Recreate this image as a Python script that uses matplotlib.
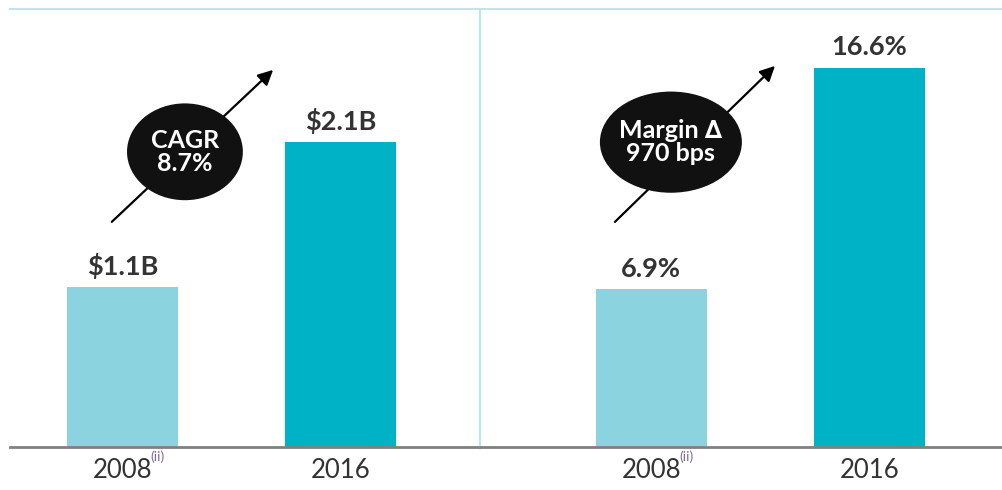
import matplotlib
matplotlib.use("Agg")
import matplotlib.pyplot as plt
from matplotlib.patches import Ellipse

plt.rcParams['font.family'] = ['Lato', 'DejaVu Sans']

# Data
years = ["2008", "2016"]
revenue = [1.1, 2.1]          # $B
revenue_labels = ["$1.1B", "$2.1B"]
margin = [6.9, 16.6]          # %
margin_labels = ["6.9%", "16.6%"]

light_teal = "#8AD3DF"
dark_teal = "#00B2C6"
divider = "#BDE5EC"
text_col = "#333333"

fig = plt.figure(figsize=(10.03, 4.9), dpi=100)
ax1 = fig.add_axes([10 / 1003, 43 / 490, 469 / 1003, 438 / 490])
ax2 = fig.add_axes([480 / 1003, 43 / 490, 523 / 1003, 438 / 490])


def style(ax, vals, labels, ymax, xlim):
    x = range(len(vals))
    bars = ax.bar(x, vals, width=0.51, color=[light_teal, dark_teal])
    ax.bar_label(bars, labels=labels, padding=6, fontsize=19.5,
                 fontweight="bold", color=text_col)
    ax.set_ylim(0, ymax)
    ax.set_xlim(*xlim)
    ax.set_yticks([])
    ax.set_xticks(list(x))
    ax.set_xticklabels(years, fontsize=18.5, color=text_col)
    ax.get_xticklabels()[0].set_x(-0.02)
    ax.tick_params(axis="x", length=0, pad=8)
    ax.spines["right"].set_visible(False)
    ax.spines["left"].set_visible(False)
    ax.spines["top"].set_color(divider)
    ax.spines["top"].set_linewidth(1.5)
    ax.spines["bottom"].set_color("#808080")
    ax.spines["bottom"].set_linewidth(2)
    # superscript (ii) next to 2008
    ax.annotate("(ii)", xy=(0, 0), xycoords=("data", "axes fraction"),
                xytext=(20, -7), textcoords="offset points",
                fontsize=10, color="#7E6F98", va="center")


def bubble(ax, text, center, size, start, end):
    ax.annotate("", xy=end, xytext=start, xycoords="axes fraction",
                textcoords="axes fraction",
                arrowprops=dict(arrowstyle="-|>,head_length=0.9,head_width=0.45",
                                color="black", lw=1.6, shrinkA=0, shrinkB=0))
    ax.add_patch(Ellipse(center, size[0], size[1], transform=ax.transAxes,
                         facecolor="#111111", edgecolor="none", zorder=3))
    ax.text(center[0], center[1], text, transform=ax.transAxes, ha="center",
            va="center", color="white", fontsize=18, fontweight="bold",
            linespacing=1.0, zorder=4)


style(ax1, revenue, revenue_labels, 3.02, (-0.516, 1.635))
style(ax2, margin, margin_labels, 19.17, (-0.785, 1.613))
ax2.spines["left"].set_visible(True)
ax2.spines["left"].set_color(divider)
ax2.spines["left"].set_linewidth(1.5)

bubble(ax1, "CAGR\n8.7%", (0.373, 0.674), (0.247, 0.221),
       (0.217, 0.514), (0.561, 0.861))
bubble(ax2, "Margin \u2206\n970 bps", (0.365, 0.696), (0.2715, 0.231),
       (0.258, 0.514), (0.564, 0.870))

fig.savefig("out.png", dpi=100)
